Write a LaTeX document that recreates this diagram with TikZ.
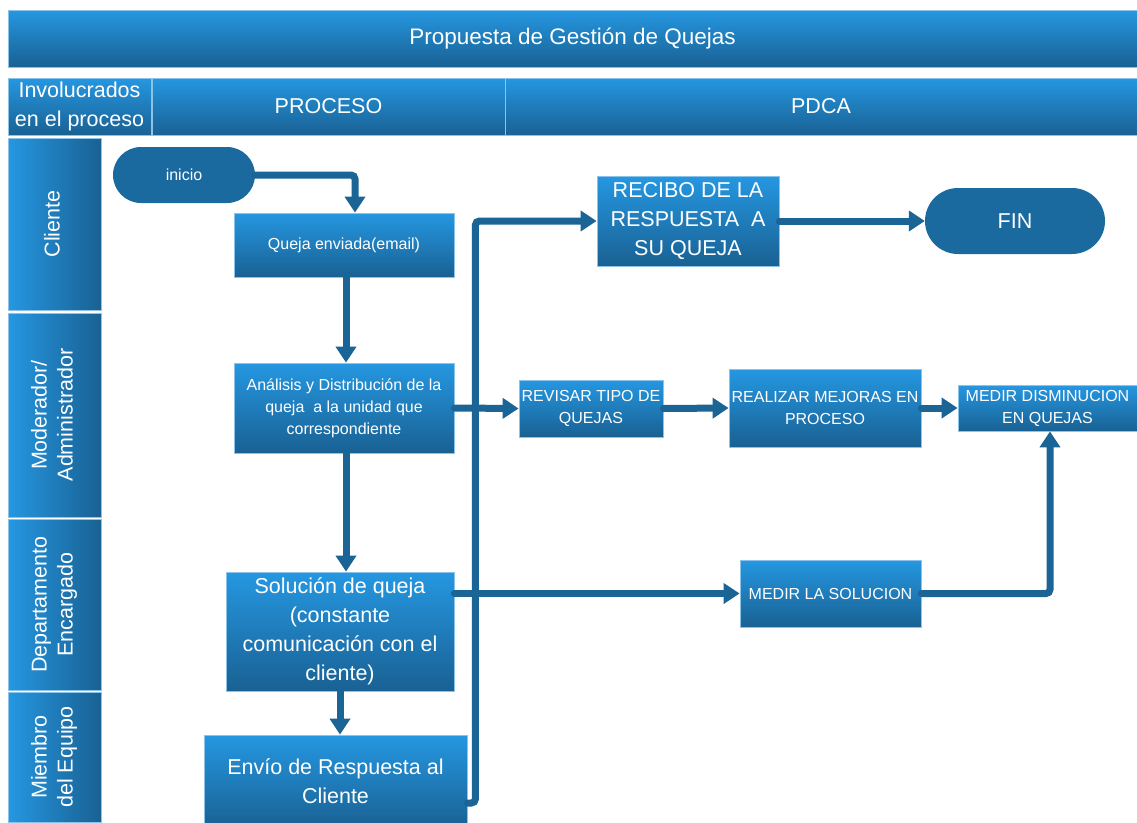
\documentclass[tikz,border=0pt]{standalone}
\usepackage{fontspec}
\setmainfont{Liberation Sans}
\usetikzlibrary{arrows.meta}

\definecolor{azulclaro}{RGB}{37,151,225}
\definecolor{azuloscuro}{RGB}{25,97,147}
\definecolor{linea}{RGB}{26,100,150}
\definecolor{terminal}{RGB}{26,106,160}
\definecolor{borde}{RGB}{140,195,232}

\newcommand{\vertical}[1]{\rotatebox{90}{\begin{tabular}{@{}c@{}}#1\end{tabular}}}

\begin{document}
\begin{tikzpicture}[x=1pt, y=-1pt,
  caja/.style={draw=borde, line width=0.8pt, top color=azulclaro, bottom color=azuloscuro,
    text=white, align=center, inner sep=2pt},
  carril/.style={draw=borde, line width=0.8pt, left color=azulclaro, right color=azuloscuro,
    text=white, inner sep=0pt, minimum width=93pt},
  termino/.style={fill=terminal, text=white, align=center},
  grande/.style={font=\fontsize{21.5}{29}\selectfont},
  chico/.style={font=\fontsize{16}{22}\selectfont},
  flecha/.style={draw=linea, line width=7pt, line cap=round, rounded corners=4pt,
    -{Triangle[length=16pt,width=20pt]}},
  ]
\useasboundingbox (0,0) rectangle (1137,822);

% encabezados
\node[caja, font=\fontsize{22.5}{29}\selectfont, minimum width=1129pt, minimum height=57pt] (titulo) at (572.5,38.5) {Propuesta de Gestión de Quejas};
\node[caja, grande, minimum width=143pt, minimum height=57pt] (invol) at (79.5,106.5) {Involucrados\\en el proceso};
\node[caja, grande, minimum width=353pt, minimum height=57pt] (proceso) at (328.5,106.5) {PROCESO};
\node[caja, grande, minimum width=632pt, minimum height=57pt] (pdca) at (821,106.5) {PDCA};

% carriles
\node[carril, font=\fontsize{21.5}{26}\selectfont, minimum height=172pt] (cliente) at (54.5,224) {\vertical{Cliente}};
\node[carril, font=\fontsize{21.5}{26}\selectfont, minimum height=204pt] (moderador) at (54.5,415) {\vertical{Moderador/\\Administrador}};
\node[carril, font=\fontsize{21.5}{26}\selectfont, minimum height=171pt] (depto) at (54.5,604.5) {\vertical{Departamento\\Encargado}};
\node[carril, font=\fontsize{21.5}{26}\selectfont, minimum height=130pt] (miembro) at (54.5,757) {\vertical{Miembro\\del Equipo}};

% proceso
\node[termino, chico, minimum width=142pt, minimum height=56pt, rounded corners=28pt] (inicio) at (184,175) {inicio};
\node[caja, chico, minimum width=220pt, minimum height=64pt] (queja) at (344,245) {Queja enviada(email)};
\node[caja, chico, minimum width=220pt, minimum height=90pt] (analisis) at (344,408) {Análisis y Distribución de la\\queja\ \ a la unidad que\\correspondiente};
\node[caja, grande, minimum width=228pt, minimum height=119pt] (solucion) at (340,631.5) {Solución de queja\\(constante\\comunicación con el\\cliente)};
\node[caja, grande, minimum width=263pt, minimum height=93pt] (envio) at (335.5,781.5) {Envío de Respuesta al\\Cliente};

% PDCA
\node[caja, grande, minimum width=182pt, minimum height=90pt] (recibo) at (688,221) {RECIBO DE LA\\RESPUESTA\ \ A\\SU QUEJA};
\node[termino, grande, minimum width=180pt, minimum height=66pt, rounded corners=33pt] (fin) at (1015,221) {FIN};
\node[caja, chico, minimum width=144pt, minimum height=57pt] (revisar) at (591,408.5) {REVISAR TIPO DE\\QUEJAS};
\node[caja, chico, minimum width=192pt, minimum height=78pt] (realizar) at (825,408) {REALIZAR MEJORAS EN\\PROCESO};
\node[caja, chico, minimum width=179pt, minimum height=46pt] (disminucion) at (1047.5,408) {MEDIR DISMINUCION\\EN QUEJAS};
\node[caja, chico, minimum width=181pt, minimum height=67pt] (medsol) at (830.5,593.5) {MEDIR LA SOLUCION};

% conectores
\draw[flecha] (inicio.east) -| ([xshift=11pt]queja.north);
\draw[flecha] ([xshift=2pt]queja.south) -- ([xshift=2pt]analisis.north);
\draw[flecha] ([xshift=2pt]analisis.south) -- ([xshift=2pt]analisis.south |- solucion.north);
\draw[flecha] (solucion.south) -- (solucion.south |- envio.north);
\draw[flecha] ([yshift=-21.5pt]envio.east) -- ++(8,0) |- (recibo.west);
\draw[flecha] (recibo.east) -- (fin.west);
\draw[flecha] (analisis.east) -- (revisar.west);
\draw[flecha] (revisar.east) -- (realizar.west);
\draw[flecha] (realizar.east) -- (disminucion.west);
\draw[flecha] (solucion.east |- medsol.west) -- (medsol.west);
\draw[flecha] (medsol.east) -| ([xshift=2.5pt]disminucion.south);

\end{tikzpicture}
\end{document}
